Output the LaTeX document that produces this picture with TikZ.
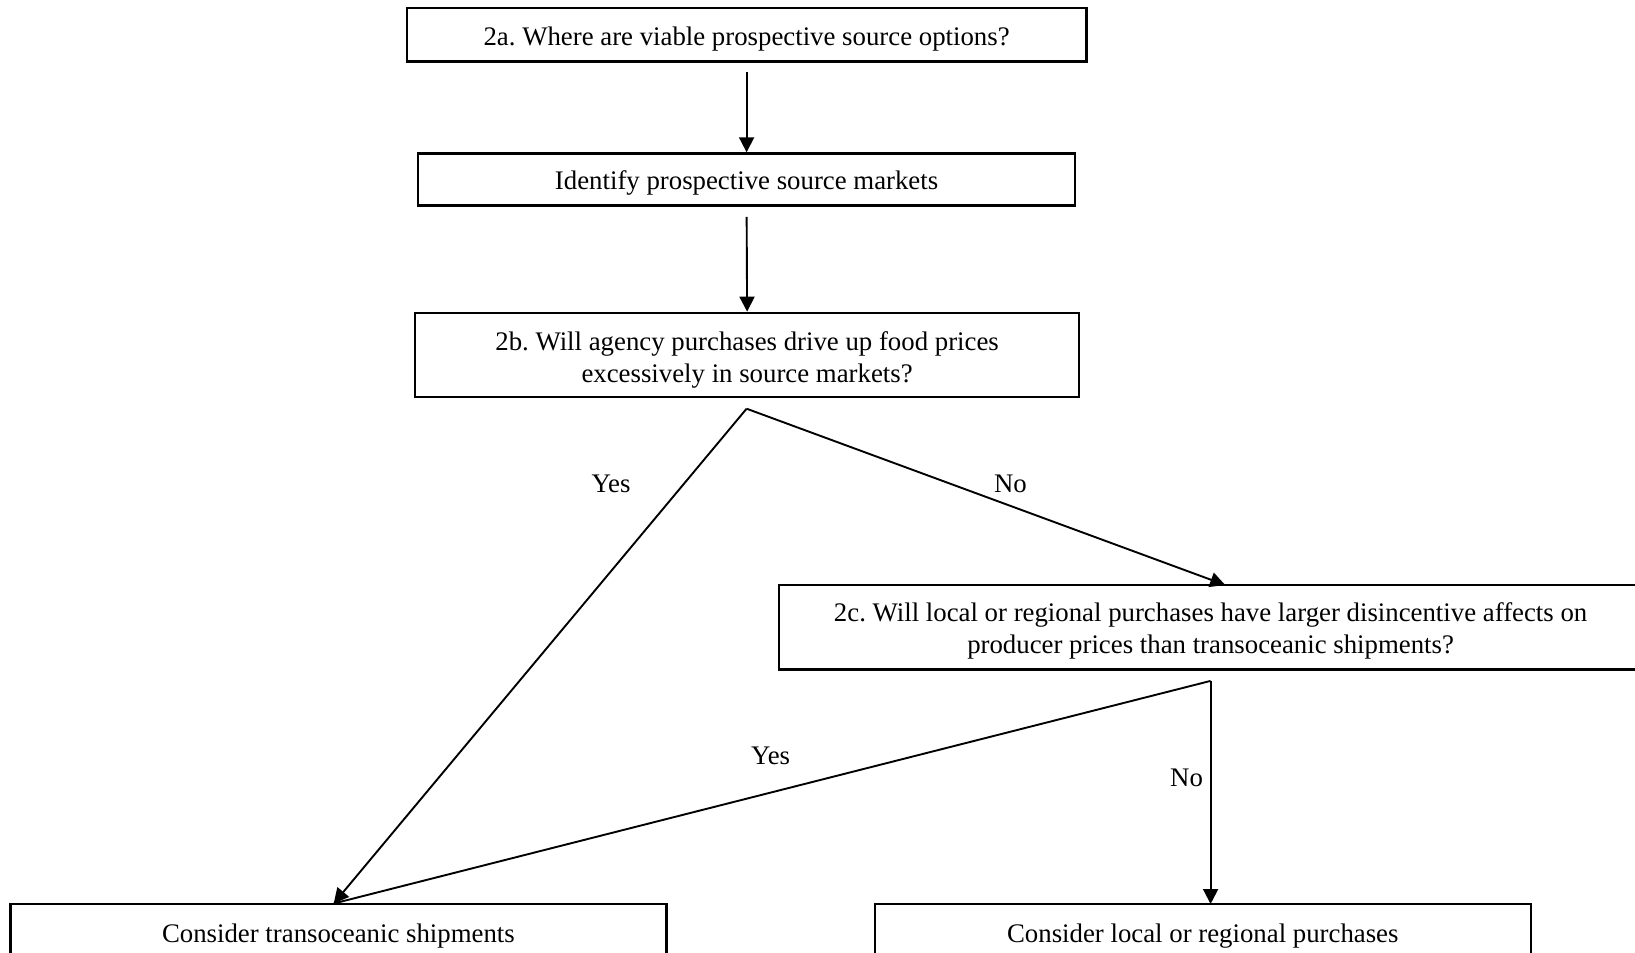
\documentclass[tikz,border=0pt]{standalone}
\usepackage{fontspec}
\setmainfont{Liberation Serif}
\usetikzlibrary{arrows.meta}
\frenchspacing
\begin{document}
\begin{tikzpicture}[x=0.5pt,y=-0.5pt,
  box/.style={draw,line width=1.1pt,inner sep=0pt,align=center,font=\fontsize{13.4}{16.2}\selectfont},
  one/.style={text height=13pt,text depth=2.8pt},
  arr/.style={line width=0.95pt,-{Triangle[length=7.5pt,width=7.5pt]}},
  ln/.style={line width=0.95pt},
  lbl/.style={font=\fontsize{13.4}{16.2}\selectfont}]
\useasboundingbox (0,0) rectangle (1635,953);
\clip (0,0) rectangle (1635,953);
\node[box,one,minimum width=339.9pt,minimum height=26.6pt] (a) at (746.6,34.9) {2a. Where are viable prospective source options?};
\node[box,one,minimum width=328.5pt,minimum height=26pt] (id) at (746.6,179.4) {Identify prospective source markets};
\node[box,minimum width=332.1pt,minimum height=42.25pt] (b) at (747.1,355) {\rule{0pt}{14.5pt}2b. Will agency purchases drive up food prices\\excessively in source markets?};
\node[box,minimum width=431.7pt,minimum height=42.2pt] (c) at (1210.6,627.2) {\rule{0pt}{13pt}2c. Will local or regional purchases have larger disincentive affects on\\producer prices than transoceanic shipments?};
\node[box,one,minimum width=328pt,minimum height=28pt] (t) at (338.4,932) {Consider transoceanic shipments};
\node[box,one,minimum width=328pt,minimum height=28pt] (l) at (1202.8,932) {Consider local or regional purchases};
\coordinate (a1) at (746.6,408.7);
\coordinate (a2) at (1210.6,680.9);
\coordinate (tt) at (333.7,903.5);
\coordinate (ct) at (1225.2,585);
\coordinate (lt) at (1210.6,904);
\draw[arr,shorten <=4.7pt] (a.south) -- (id.north);
\draw[arr,shorten <=5.2pt] (id.south) -- (b.north);
\draw[arr] (a1) -- (tt);
\draw[arr] (a1) -- (ct);
\draw[ln] (a2) -- (tt);
\draw[arr] (a2) -- (lt);
\node[lbl] (y1) at (611,484) {Yes};
\node[lbl] (n1) at (1010.4,484) {No};
\node[lbl] (y2) at (770.6,756) {Yes};
\node[lbl] (n2) at (1186.6,778) {No};
\end{tikzpicture}
\end{document}
